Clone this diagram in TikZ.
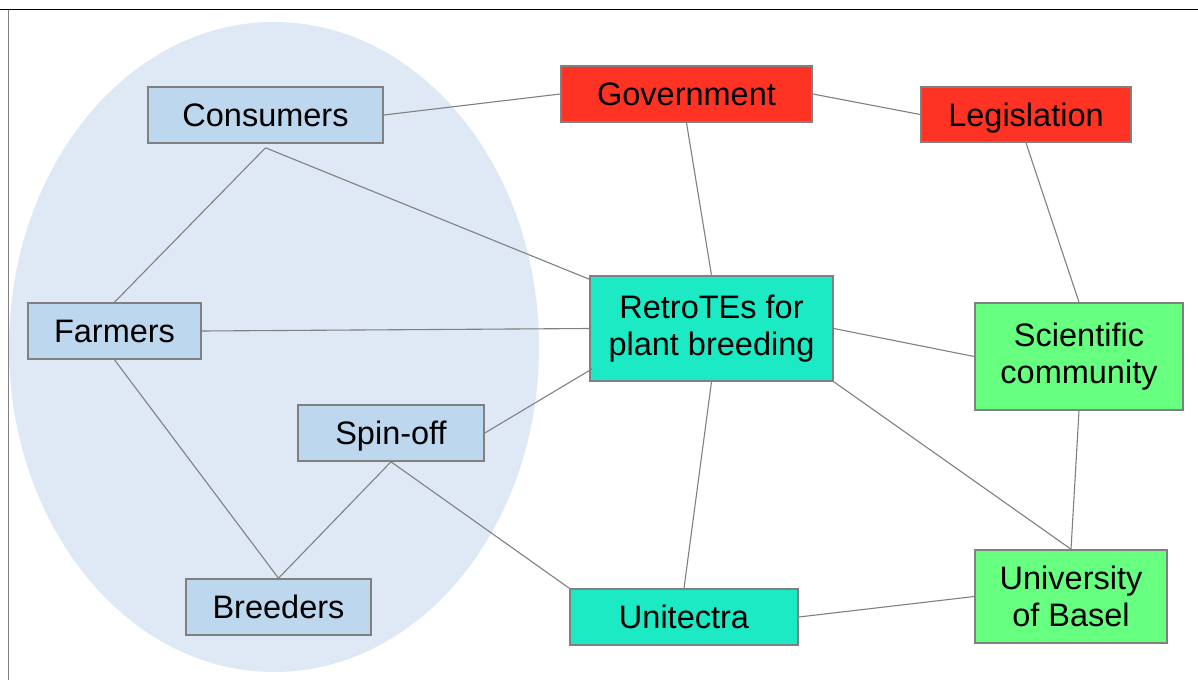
\documentclass[tikz,border=0pt]{standalone}
\usepackage{fontspec}
\setmainfont{Liberation Sans}
\usetikzlibrary{calc}
\definecolor{ellc}{HTML}{DEE9F5}
\definecolor{lblue}{HTML}{BDD7EE}
\definecolor{redc}{HTML}{FF3324}
\definecolor{aqua}{HTML}{1BEAC5}
\definecolor{greenc}{HTML}{66FF80}
\definecolor{bordc}{HTML}{808080}
\tikzset{
  box/.style={draw=bordc, line width=1.6pt, inner sep=0pt, align=center,
    font=\fontsize{32.5}{37}\selectfont},
  onel/.style={text height=23.3pt, text depth=0pt},
  link/.style={draw=bordc, line width=1.1pt}
}
\begin{document}
\begin{tikzpicture}[x=1pt,y=-1pt]
\useasboundingbox (0,0) rectangle (1198,680);
\fill[white] (0,0) rectangle (1198,680);
\draw[line width=1.4pt] (0,9.5) -- (1198,9.5);
\draw[bordc, line width=1.4pt] (8.5,9.5) -- (8.5,680);
\fill[ellc] (274,347) ellipse [x radius=265, y radius=325];

\node[box, onel, fill=lblue, minimum width=235, minimum height=56] (cons) at (265.5,115) {Consumers};
\node[box, onel, fill=redc, minimum width=251, minimum height=56] (gov) at (686.5,94) {Government};
\node[box, onel, fill=redc, minimum width=210, minimum height=55] (leg) at (1026,114.5) {Legislation};
\node[box, onel, fill=lblue, minimum width=173, minimum height=56] (farm) at (114.5,331) {Farmers};
\node[box, fill=aqua, minimum width=243, minimum height=105] (retro) at (711.5,328.5) {RetroTEs for\\plant breeding};
\node[box, fill=greenc, minimum width=208, minimum height=107] (sci) at (1079,356.5) {Scientific\\community};
\node[box, onel, fill=lblue, minimum width=186, minimum height=56] (spin) at (391,433) {Spin-off};
\node[box, onel, fill=lblue, minimum width=185, minimum height=56] (breed) at (278.5,607) {Breeders};
\node[box, onel, fill=aqua, minimum width=228, minimum height=56] (unit) at (684,617) {Unitectra};
\node[box, fill=greenc, minimum width=192, minimum height=93] (uni) at (1071,596.5) {University\\of Basel};

\draw[link] (cons.east) -- (gov.west);
\draw[link] ($(cons.south)+(0,4)$) -- (farm.north);
\draw[link] ($(cons.south)+(0,4)$) -- ($(retro.north west)+(0,4)$);
\draw[link] (gov.south) -- (retro.north);
\draw[link] (gov.east) -- (leg.west);
\draw[link] (leg.south) -- (sci.north);
\draw[link] (farm.east) -- (retro.west);
\draw[link] (farm.south) -- (breed.north);
\draw[link] (spin.east) -- ($(retro.south west)+(3,-13)$);
\draw[link] (spin.south) -- (breed.north);
\draw[link] (spin.south) -- (unit.north west);
\draw[link] (retro.south) -- (unit.north);
\draw[link] (retro.east) -- (sci.west);
\draw[link] (retro.south east) -- (uni.north);
\draw[link] (sci.south) -- (uni.north);
\draw[link] (unit.east) -- (uni.west);
\end{tikzpicture}
\end{document}
